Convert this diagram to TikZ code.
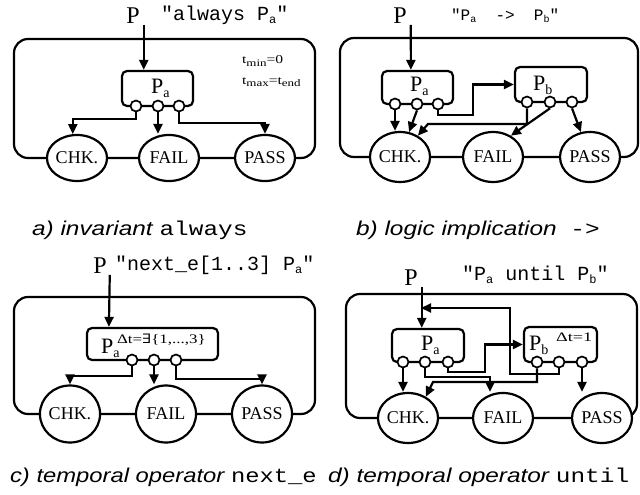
\documentclass[tikz,border=0pt]{standalone}
\usepackage{fontspec}
\usepackage{graphicx}
\setmainfont{Liberation Serif}
\setsansfont{Liberation Sans}
\setmonofont{Liberation Mono}
\newfontfamily\symserif{DejaVu Serif}
\usetikzlibrary{arrows.meta,calc,shapes.geometric}

% font size helper
\newcommand{\fs}[1]{\fontsize{#1}{#1}\selectfont}
% P with a lowered index, as printed inside the property boxes
\newcommand{\plabel}[1]{{\fs{22}P\raisebox{-4pt}{\fs{14}#1}}}
% lowered index inside the typewriter formulas
\newcommand{\qsub}[1]{\raisebox{-3pt}{\fs{12}#1}}
\newcommand{\qsubs}[1]{\raisebox{-2.5pt}{\fs{10}#1}}
% time bound labels
\newcommand{\tsub}[1]{\raisebox{-2.5pt}{\fs{10}#1}}

\tikzset{
  frame/.style={draw, rounded corners=14pt},
  state/.style={draw, ellipse, fill=white, minimum width=60pt, inner sep=0pt, font=\fs{18}},
  pbox/.style={draw, rounded corners=5pt, inner sep=0pt},
  port/.style={draw, circle, fill=white, line width=1.7pt, minimum size=11pt, inner sep=0pt},
  arr/.style={-{Triangle[length=10pt,width=9pt]}},
  bigp/.style={inner sep=0pt, font=\fs{24}},
  plbl/.style={inner sep=0pt, anchor=base west},
  formula/.style={inner sep=0pt, anchor=west, font=\ttfamily\fs{20}},
  small/.style={inner sep=0pt, anchor=west},
  capt/.style={inner sep=0pt, anchor=base west, font=\sffamily\fs{20}}
}

\begin{document}
\begin{tikzpicture}[x=1pt, y=-1pt, line width=2.2pt]
\useasboundingbox (0,0) rectangle (640,495);

% ---------------- (a) invariant always ----------------
\draw[frame] (14,39) rectangle (315,158);
\node[bigp] (pA) at (133,16) {P};
\node[formula] (qA) at (160,15) {"always P\qsub{a}"};
\node[pbox, minimum width=71pt, minimum height=35pt] (bxA) at (157.5,88.5) {};
\node[plbl] (lA) at (150,93) {\plabel{a}};
\node[port] (a1) at (136,106) {};
\node[port] (a2) at (158,106) {};
\node[port] (a3) at (179,106) {};
\node[state, minimum height=46pt] (chkA) at (77,158) {CHK.};
\node[state, minimum height=46pt] (failA) at (169,158) {FAIL};
\node[state, minimum height=46pt] (passA) at (265,158) {PASS};
\node[small] (tminA) at (241,61) {\scalebox{1.3}[1]{\fs{12}t\tsub{min}=0}};
\node[small] (tmaxA) at (241,82) {\scalebox{1.3}[1]{\fs{12}t\tsub{max}=t\tsub{end}}};
\coordinate (sA) at ($(pA.south east)+(3,0)$);
\draw[arr] (sA) -- (sA |- bxA.north);
\draw[arr] (a1.south) -- ++(0,7) -| (chkA.100);
\draw[arr] (a2.south) -- (a2.south |- failA.north);
\draw[arr] (a3.south) -- ++(0,11) -| (passA.north);

% ---------------- (b) logic implication ----------------
\draw[frame] (340,38) rectangle (638,157);
\node[bigp] (pB) at (400,16) {P};
\node[formula, font=\ttfamily\fs{16}] (qB) at (450,16) {"P\qsubs{a}\ \ ->\ \ P\qsubs{b}"};
\node[pbox, minimum width=71pt, minimum height=33pt] (bxBa) at (417.5,87.5) {};
\node[plbl] (lBa) at (409,92) {\plabel{a}};
\node[pbox, minimum width=72pt, minimum height=35pt] (bxBb) at (551,84.5) {};
\node[plbl] (lBb) at (532,91) {\plabel{b}};
\node[port] (b1) at (395,104) {};
\node[port] (b2) at (417,104) {};
\node[port] (b3) at (438,104) {};
\node[port] (b4) at (527,102) {};
\node[port] (b5) at (550,102) {};
\node[port] (b6) at (572,102) {};
\node[state, minimum height=50pt] (chkB) at (400,157) {CHK.};
\node[state, minimum height=50pt] (failB) at (493,157) {FAIL};
\node[state, minimum height=50pt] (passB) at (590,157) {PASS};
\draw[arr] ($(pB.south east)+(3,0)$) -- ($(bxBa.north west)+(30,0)$);
\draw[arr] (b3.south) |- (473,115) |- (bxBb.west);
\draw[arr] (b1.south) -- (b1.south |- chkB.north);
\draw[arr] (b2.south) -- (chkB.70);
\draw[arr] (b4.south) |- (428,124) -- (chkB.50);
\draw[arr] (b5.south) -- (failB.50);
\draw[arr] (b6.south) -- (passB.110);

% ---------------- (c) temporal operator next_e ----------------
\draw[frame] (14,297) rectangle (315,414);
\node[bigp] (pC) at (100,266) {P};
\node[formula] (qC) at (114,265) {"next\_e[1..3] P\qsub{a}"};
\node[pbox, minimum width=131pt, minimum height=32pt] (bxC) at (152.5,344) {};
\node[plbl] (lC) at (100,353) {\plabel{a}};
\node[small] (supC) at (116,340) {\scalebox{1.3}[1]{\fs{13}Δt={\symserif ∃}\{1,...,3\}}};
\node[port] (c1) at (132,360) {};
\node[port] (c2) at (154,360) {};
\node[port] (c3) at (176,360) {};
\node[state, minimum height=57pt] (chkC) at (70,414) {CHK.};
\node[state, minimum height=57pt] (failC) at (166,414) {FAIL};
\node[state, minimum height=57pt] (passC) at (262,414) {PASS};
\draw[arr] ($(pC.south east)+(2,0)$) -- ($(bxC.north west)+(23,0)$);
\draw[arr] (c1.south) -- ++(0,10) -| (chkC.north);
\draw[arr] (c2.south) -- (c2.south |- failC.north);
\draw[arr] (c3.south) -- ++(0,13) -| (passC.north);

% ---------------- (d) temporal operator until ----------------
\draw[frame] (346,294) rectangle (637,418);
\node[bigp] (pD) at (411,278) {P};
\node[formula] (qD) at (461,275) {"P\qsub{a} until P\qsub{b}"};
\node[pbox, minimum width=72pt, minimum height=33pt] (bxDa) at (428,345.5) {};
\node[plbl] (lDa) at (420,350) {\plabel{a}};
\node[pbox, minimum width=73pt, minimum height=35pt] (bxDb) at (560.5,344.5) {};
\node[plbl] (lDb) at (528,350) {\plabel{b}};
\node[small] (supD) at (555,337) {\scalebox{1.4}[1]{\fs{13}Δt=1}};
\node[port] (d1) at (403,362) {};
\node[port] (d2) at (425,362) {};
\node[port] (d3) at (448,362) {};
\node[port] (d4) at (537,362) {};
\node[port] (d5) at (559,362) {};
\node[port] (d6) at (582,362) {};
\node[state, minimum height=50pt] (chkD) at (408,418) {CHK.};
\node[state, minimum height=50pt] (failD) at (503,418) {FAIL};
\node[state, minimum height=50pt] (passD) at (602,418) {PASS};
\coordinate (fbD) at (421,308);
\coordinate (sD) at ($(pD.south east)+(3,0)$);
\draw[arr] (sD) -- (sD |- bxDa.north);
\draw[arr] (d5.south) |- (510,374) |- (fbD);
\draw[arr] (d3.south) |- (485,372) |- (bxDb.west);
\draw[arr] (d1.south) -- (d1.south |- chkD.north);
\draw[arr] (d2.south) |- ($(failD.north)+(-13,-15)$) -- ($(failD.north)+(-13,0)$);
\draw[arr] (d4.south) |- (433,382) -- (chkD.50);
\draw[arr] (d6.south) -- (d6.south |- passD.north);

% ---------------- captions ----------------
\node[capt] (capA) at (31,235) {\scalebox{1.22}[1]{\itshape a) invariant {\upshape\ttfamily always}}};
\node[capt] (capB) at (355,235) {\scalebox{1.22}[1]{\itshape b) logic implication\ \ {\upshape\ttfamily ->}}};
\node[capt] (capC) at (9,482) {\scalebox{1.19}[1]{\itshape c) temporal operator {\upshape\ttfamily next\_e}}};
\node[capt] (capD) at (327,482) {\scalebox{1.22}[1]{\itshape d) temporal operator {\upshape\ttfamily until}}};
\end{tikzpicture}
\end{document}
